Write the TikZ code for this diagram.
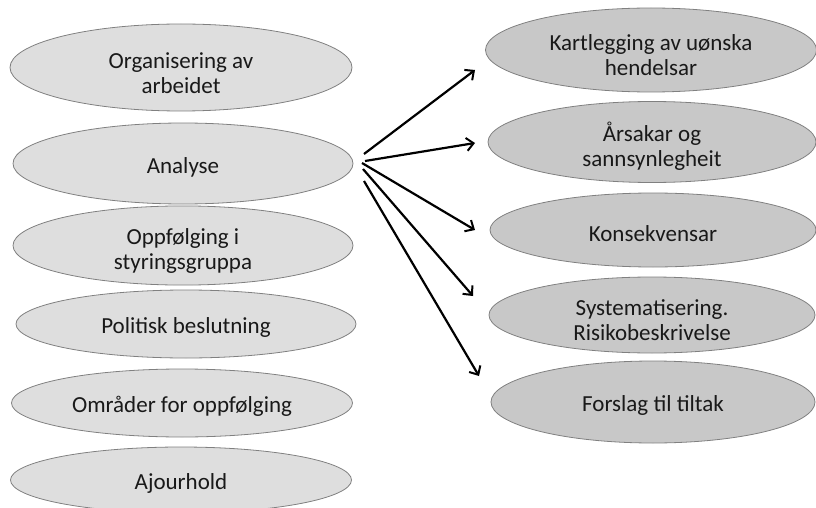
\documentclass[tikz,border=0pt]{standalone}
\usepackage{fontspec}
\setmainfont{Carlito}
\usetikzlibrary{shapes.geometric,arrows.meta}
\definecolor{leftfill}{HTML}{DEDEDE}
\definecolor{rightfill}{HTML}{C8C8C8}
\definecolor{edge}{HTML}{808080}
\newcommand{\firstlift}{\rule{0pt}{27pt}}
\tikzset{
  oval/.style={ellipse, draw=edge, line width=0.8pt, inner sep=0pt, align=center,
    font=\fontsize{23}{25}\selectfont, text=black!90},
  oneline/.style={execute at begin node={\rule{0pt}{23pt}}},
  lefto/.style={oval, fill=leftfill},
  righto/.style={oval, fill=rightfill},
  arr/.style={line width=2.2pt, -{Straight Barb[length=7pt,width=13pt,line width=2pt]}}
}
\begin{document}
\begin{tikzpicture}[x=1pt,y=-1pt]
\useasboundingbox (0,0) rectangle (816,508);
\node[lefto, minimum width=342pt, minimum height=87pt] (L1) at (181,67.5) {\firstlift Organisering av\\arbeidet};
\node[lefto, oneline, minimum width=340pt, minimum height=81pt] (L2) at (183,163.5) {Analyse};
\node[lefto, minimum width=340pt, minimum height=69pt] (L3) at (183,245.5) {\firstlift Oppfølging i\\styringsgruppa};
\node[lefto, oneline, minimum width=340pt, minimum height=68pt] (L4) at (186,324) {Politisk beslutning};
\node[lefto, oneline, minimum width=341pt, minimum height=68pt] (L5) at (182,403) {Områder for oppfølging};
\node[lefto, oneline, minimum width=341pt, minimum height=66pt] (L6) at (181,480) {Ajourhold};

\node[righto, minimum width=331pt, minimum height=84pt] (R1) at (651,50) {\firstlift Kartlegging av uønska\\hendelsar};
\node[righto, minimum width=328pt, minimum height=81pt] (R2) at (652,142) {\firstlift Årsakar og\\sannsynlegheit};
\node[righto, oneline, minimum width=326pt, minimum height=74pt] (R3) at (653,230) {Konsekvensar};
\node[righto, minimum width=326pt, minimum height=76pt] (R4) at (652,315) {\firstlift Systematisering.\\Risikobeskrivelse};
\node[righto, oneline, minimum width=324pt, minimum height=82pt] (R5) at (653,402) {Forslag til tiltak};

\coordinate (s1) at (364,154);
\coordinate (s2) at (365,161);
\coordinate (s3) at (362,163);
\coordinate (s4) at (363,169);
\coordinate (s5) at (364,181);
\coordinate (t1) at (475,70);
\coordinate (t2) at (475,143);
\coordinate (t3) at (475,230);
\coordinate (t4) at (473,296);
\coordinate (t5) at (479,376);
\draw[arr] (s1) -- (t1);
\draw[arr] (s2) -- (t2);
\draw[arr] (s3) -- (t3);
\draw[arr] (s4) -- (t4);
\draw[arr] (s5) -- (t5);
\end{tikzpicture}
\end{document}
